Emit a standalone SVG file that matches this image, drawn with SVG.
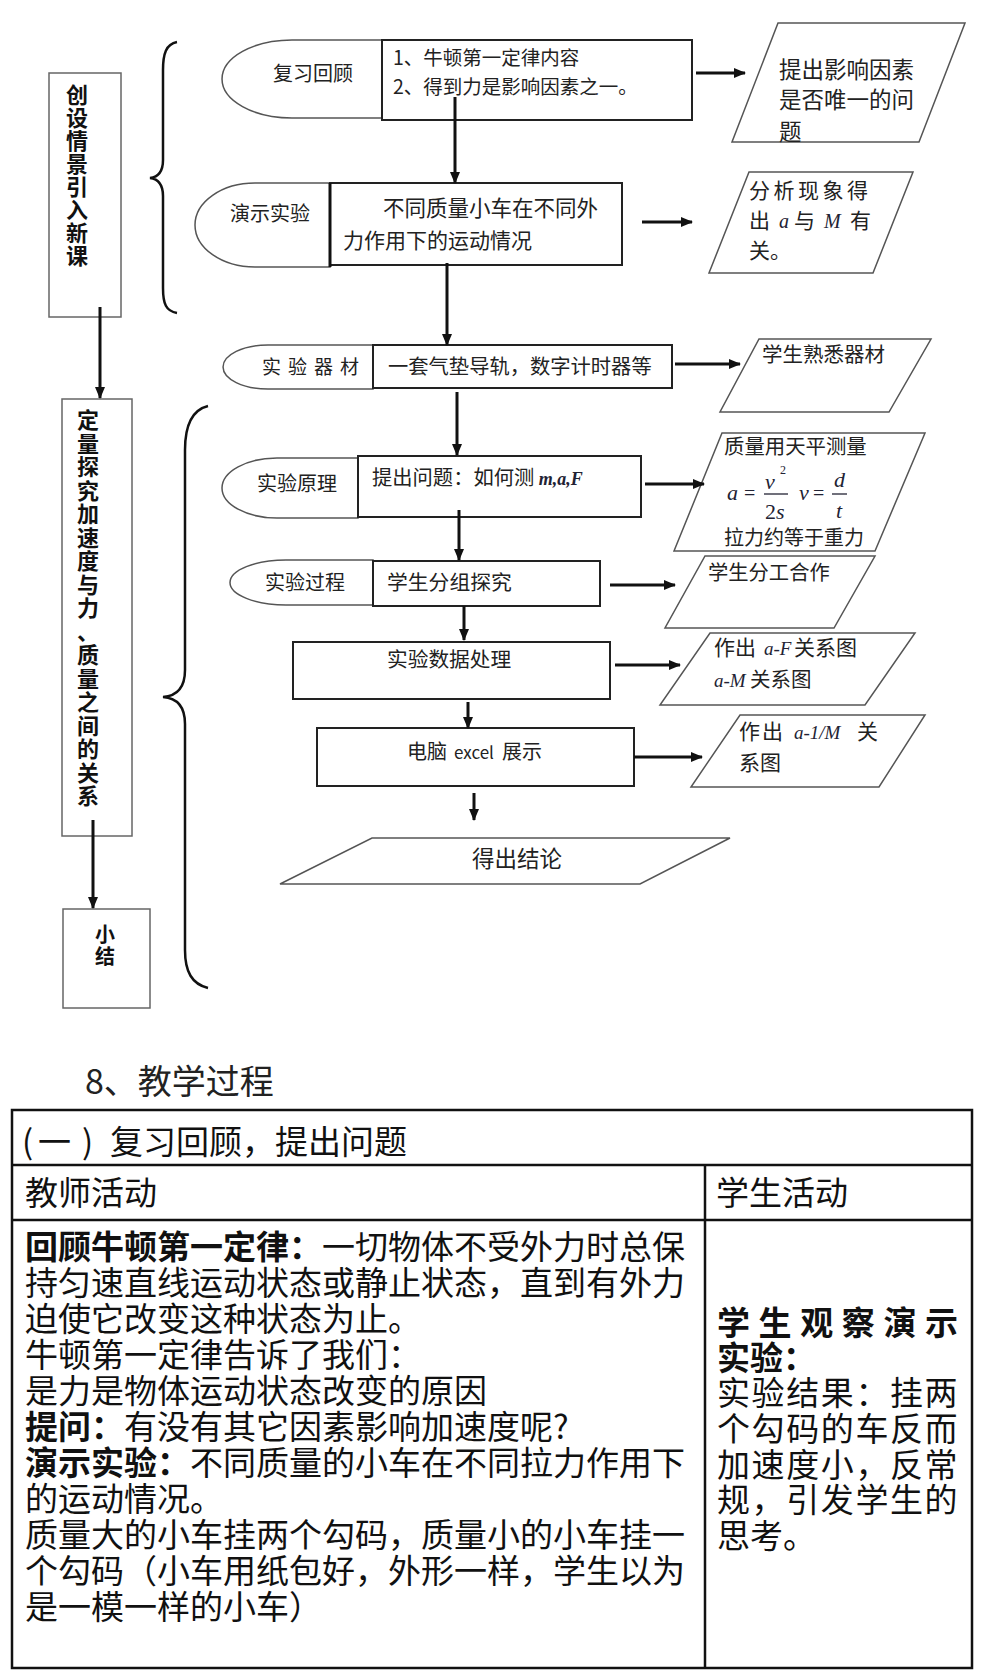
<svg xmlns="http://www.w3.org/2000/svg" width="984" height="1680" viewBox="0 0 984 1680">
<style>
.t{font-family:"Noto Sans CJK SC","Liberation Sans",sans-serif;fill:#222}
.sh{fill:#fff;stroke:#555;stroke-width:1.5}
.bx{fill:#fff;stroke:#222;stroke-width:2}
.lb{fill:#fff;stroke:#666;stroke-width:1.5}
.con{stroke:#111;stroke-width:3;fill:none;marker-end:url(#ah)}
.br{fill:none;stroke:#111;stroke-width:2.5}
.m{font-family:"Liberation Serif",serif;font-style:italic;fill:#223}
.r{font-family:"Liberation Serif",serif;fill:#223}
.tb{font-family:"Noto Sans CJK SC",sans-serif;font-size:33px;fill:#111}
.b{font-weight:bold}
.v{font-family:"Noto Sans CJK SC",sans-serif;font-weight:bold;fill:#111;text-anchor:middle}
.tl{fill:none;stroke:#111;stroke-width:2.5}
</style>
<defs>
<marker id="ah" markerUnits="userSpaceOnUse" markerWidth="12" markerHeight="10" refX="11" refY="5" orient="auto"><path d="M0,0 L12,5 L0,10 z" fill="#111"/></marker>
</defs>

<!-- braces -->
<g id="braces">
<path class="br" d="M177,42 C166,44 163,54 163,70 L163,160 C163,172 158,177 150,178 C158,179 163,184 163,196 L163,288 C163,304 166,311 177,313"/>
<path class="br" d="M208,406 C192,410 185,425 185,450 L185,670 C185,688 176,696 163,697 C176,698 185,706 185,724 L185,950 C185,972 192,984 208,988"/>
</g>

<!-- left column -->
<g id="n-intro">
<rect class="lb" x="49" y="73" width="72" height="244"/>
<text class="v" font-size="22" x="77"><tspan x="77" y="103">创</tspan><tspan x="77" y="126">设</tspan><tspan x="77" y="149">情</tspan><tspan x="77" y="172">景</tspan><tspan x="77" y="195">引</tspan><tspan x="77" y="218">入</tspan><tspan x="77" y="241">新</tspan><tspan x="77" y="264">课</tspan></text>
</g>
<g id="n-explore">
<rect class="lb" x="62" y="399" width="70" height="437"/>
<text class="v" font-size="22" x="88"><tspan x="88" y="428">定</tspan><tspan x="88" y="451.5">量</tspan><tspan x="88" y="475">探</tspan><tspan x="88" y="498.5">究</tspan><tspan x="88" y="522">加</tspan><tspan x="88" y="545.5">速</tspan><tspan x="88" y="569">度</tspan><tspan x="88" y="592.5">与</tspan><tspan x="88" y="616">力</tspan><tspan x="88" y="639.5">、</tspan><tspan x="88" y="663">质</tspan><tspan x="88" y="686.5">量</tspan><tspan x="88" y="710">之</tspan><tspan x="88" y="733.5">间</tspan><tspan x="88" y="757">的</tspan><tspan x="88" y="780.5">关</tspan><tspan x="88" y="804">系</tspan></text>
</g>
<g id="n-summary">
<rect class="lb" x="63" y="909" width="87" height="99"/>
<text class="v" font-size="20" x="105"><tspan x="105" y="942">小</tspan><tspan x="105" y="964">结</tspan></text>
</g>

<!-- row 1 -->
<g id="n-review">
<path class="sh" d="M382,40 H292 A70,39 0 0 0 292,118 H382 Z"/>
<rect class="bx" x="382" y="40" width="310" height="80" stroke-width="1.5"/>
<text class="t" font-size="20" x="273" y="81">复习回顾</text>
<text class="t" font-size="19.5" x="393" y="65">1、牛顿第一定律内容</text>
<text class="t" font-size="19.5" x="393" y="94">2、得到力是影响因素之一。</text>
</g>
<g id="p-factor">
<polygon class="sh" points="778,23 965,23 919,142 732,142"/>
<text class="t" font-size="22.5" x="779" y="78">提出影响因素</text>
<text class="t" font-size="22.5" x="779" y="108">是否唯一的问</text>
<text class="t" font-size="22.5" x="779" y="140">题</text>
</g>

<!-- row 2 -->
<g id="n-demo">
<path class="sh" d="M330,183 H255 A60,42 0 0 0 255,267 H330 Z"/>
<rect class="bx" x="330" y="183" width="292" height="82" stroke-width="1.5"/>
<line x1="330" y1="183" x2="330" y2="267" stroke="#111" stroke-width="3"/>
<text class="t" font-size="20" x="230" y="221">演示实验</text>
<text class="t" font-size="21.5" x="383" y="216">不同质量小车在不同外</text>
<text class="t" font-size="21" x="343" y="248">力作用下的运动情况</text>
</g>
<g id="p-analyze">
<polygon class="sh" points="749,172 913,172 873,273 709,273"/>
<text class="t" font-size="21" x="749" y="198" letter-spacing="3.5">分析现象得</text>
<text class="t" font-size="21" y="228"><tspan x="749">出</tspan><tspan class="m" x="779" font-size="20">a</tspan><tspan x="794">与</tspan><tspan class="m" x="824" font-size="20">M</tspan><tspan x="850">有</tspan></text>
<text class="t" font-size="21" x="749" y="258">关。</text>
</g>

<!-- row 3 -->
<g id="n-equip">
<path class="sh" d="M373,345 H268 A45,22 0 0 0 268,389 H373 Z"/>
<rect class="bx" x="373" y="345" width="299" height="43" stroke-width="1.5"/>
<text class="t" font-size="19" x="262" y="374" letter-spacing="7">实验器材</text>
<text class="t" font-size="20.3" x="388" y="374">一套气垫导轨，数字计时器等</text>
</g>
<g id="p-familiar">
<polygon class="sh" points="759,339 931,339 889,412 720,412"/>
<text class="t" font-size="20.5" x="762" y="362">学生熟悉器材</text>
</g>

<!-- row 4 -->
<g id="n-principle">
<path class="sh" d="M358,458 H277 A55,30 0 0 0 277,518 H358 Z"/>
<rect class="bx" x="358" y="456" width="283" height="61"/>
<text class="t" font-size="20" x="257" y="491">实验原理</text>
<text class="t" font-size="20.3" x="372" y="485">提出问题：如何测 <tspan class="m" font-weight="bold" font-size="18">m,a,F</tspan></text>
</g>
<g id="p-measure">
<polygon class="sh" points="722,433 925,433 875,551 674,551"/>
<text class="t" font-size="20.4" x="724" y="454">质量用天平测量</text>
<text class="m" font-size="22" x="727" y="500">a</text>
<text class="r" font-size="20" x="744" y="500">=</text>
<text class="m" font-size="22" x="765" y="489">v</text>
<text class="r" font-size="12" x="780" y="474">2</text>
<line x1="764" y1="494" x2="788" y2="494" stroke="#223" stroke-width="1.3"/>
<text class="r" font-size="22" x="765" y="519">2<tspan class="m">s</tspan></text>
<text class="m" font-size="22" x="799" y="500">v</text>
<text class="r" font-size="20" x="813" y="500">=</text>
<text class="m" font-size="22" x="834" y="487">d</text>
<line x1="832" y1="494" x2="847" y2="494" stroke="#223" stroke-width="1.3"/>
<text class="m" font-size="22" x="836" y="518">t</text>
<text class="t" font-size="20" x="724" y="545">拉力约等于重力</text>
</g>

<!-- row 5 -->
<g id="n-process">
<path class="sh" d="M373,560 H286 A56,22.5 0 0 0 286,605 H373 Z"/>
<rect class="bx" x="373" y="561" width="227" height="45"/>
<text class="t" font-size="20" x="265" y="590">实验过程</text>
<text class="t" font-size="20.8" x="387" y="590">学生分组探究</text>
</g>
<g id="p-cooperate">
<polygon class="sh" points="705,556 875,556 834,628 665,628"/>
<text class="t" font-size="20.3" x="708" y="580">学生分工合作</text>
</g>

<!-- row 6 -->
<g id="n-data">
<rect class="bx" x="293" y="642" width="317" height="57"/>
<text class="t" font-size="20.7" x="387" y="667">实验数据处理</text>
</g>
<g id="p-aF">
<polygon class="sh" points="710,633 915,633 865,705 660,705"/>
<text class="t" font-size="21" y="655"><tspan x="714">作出</tspan><tspan class="m" x="764" font-size="19">a-F</tspan><tspan x="794">关系图</tspan></text>
<text class="t" font-size="20.5" y="687"><tspan class="m" x="714" font-size="19">a-M</tspan><tspan x="750">关系图</tspan></text>
</g>

<!-- row 7 -->
<g id="n-excel">
<rect class="bx" x="317" y="728" width="317" height="58"/>
<text class="t" font-size="20" y="759"><tspan x="407">电脑</tspan><tspan x="454" font-size="17">excel</tspan><tspan x="502">展示</tspan></text>
</g>
<g id="p-a1M">
<polygon class="sh" points="740,715 925,715 879,787 691,787"/>
<text class="t" font-size="21" y="739"><tspan x="739">作</tspan><tspan x="762">出</tspan><tspan class="m" x="794" font-size="19">a-1/M</tspan><tspan x="857">关</tspan></text>
<text class="t" font-size="21" x="739" y="770">系图</text>
</g>

<!-- conclusion -->
<g id="p-conclude">
<polygon class="sh" points="372,838 730,838 640,884 280,884"/>
<text class="t" font-size="22.5" x="472" y="867">得出结论</text>
</g>

<!-- connectors -->
<g id="connectors">
<line class="con" x1="696" y1="73" x2="745" y2="73"/>
<line class="con" x1="455" y1="97" x2="455" y2="183"/>
<line class="con" x1="642" y1="222" x2="692" y2="222"/>
<line class="con" x1="447" y1="263" x2="447" y2="345"/>
<line class="con" x1="675" y1="364" x2="740" y2="364"/>
<line class="con" x1="457" y1="392" x2="457" y2="455"/>
<line class="con" x1="645" y1="484" x2="704" y2="484"/>
<line class="con" x1="459" y1="510" x2="459" y2="560"/>
<line class="con" x1="610" y1="585" x2="675" y2="585"/>
<line class="con" x1="464" y1="606" x2="464" y2="640"/>
<line class="con" x1="615" y1="665" x2="680" y2="665"/>
<line class="con" x1="468" y1="702" x2="468" y2="728"/>
<line class="con" x1="634" y1="757" x2="702" y2="757"/>
<line class="con" x1="474" y1="793" x2="474" y2="820"/>
<line class="con" x1="100" y1="307" x2="100" y2="398" stroke-width="2.5"/>
<line class="con" x1="93" y1="820" x2="93" y2="908" stroke-width="2.5"/>
</g>

<!-- section title and table -->
<g id="section">
<text class="t" font-size="34" x="85" y="1094" fill="#111">8、教学过程</text>
</g>
<g id="table">
<rect class="tl" x="12" y="1110" width="960" height="558"/>
<line class="tl" x1="12" y1="1165" x2="972" y2="1165"/>
<line class="tl" x1="12" y1="1220" x2="972" y2="1220"/>
<line class="tl" x1="705" y1="1165" x2="705" y2="1668"/>
<text class="tb" font-size="32" y="1154"><tspan x="22">(</tspan><tspan x="38">一</tspan><tspan x="82">)</tspan><tspan x="110">复习回顾，提出问题</tspan></text>
<text class="tb" font-size="32" x="25" y="1205">教师活动</text>
<text class="tb" font-size="32" x="716" y="1205">学生活动</text>

<text class="tb" x="25" y="1259"><tspan class="b">回顾牛顿第一定律：</tspan>一切物体不受外力时总保</text>
<text class="tb" x="25" y="1295">持匀速直线运动状态或静止状态，直到有外力</text>
<text class="tb" x="25" y="1331">迫使它改变这种状态为止。</text>
<text class="tb" x="25" y="1367">牛顿第一定律告诉了我们：</text>
<text class="tb" x="25" y="1403">是力是物体运动状态改变的原因</text>
<text class="tb" x="25" y="1439"><tspan class="b">提问：</tspan>有没有其它因素影响加速度呢?</text>
<text class="tb" x="25" y="1475"><tspan class="b">演示实验：</tspan>不同质量的小车在不同拉力作用下</text>
<text class="tb" x="25" y="1511">的运动情况。</text>
<text class="tb" x="25" y="1547">质量大的小车挂两个勾码，质量小的小车挂一</text>
<text class="tb" x="25" y="1583">个勾码（小车用纸包好，外形一样，学生以为</text>
<text class="tb" x="25" y="1619">是一模一样的小车）</text>

<text class="tb b" x="717" y="1335" letter-spacing="8.6">学生观察演示</text>
<text class="tb b" x="717" y="1370">实验：</text>
<text class="tb" x="717" y="1405" letter-spacing="1.6">实验结果：挂两</text>
<text class="tb" x="717" y="1441" letter-spacing="1.6">个勾码的车反而</text>
<text class="tb" x="717" y="1477" letter-spacing="1.6">加速度小，反常</text>
<text class="tb" x="717" y="1512" letter-spacing="1.6">规，引发学生的</text>
<text class="tb" x="717" y="1548">思考。</text>
</g>
</svg>
